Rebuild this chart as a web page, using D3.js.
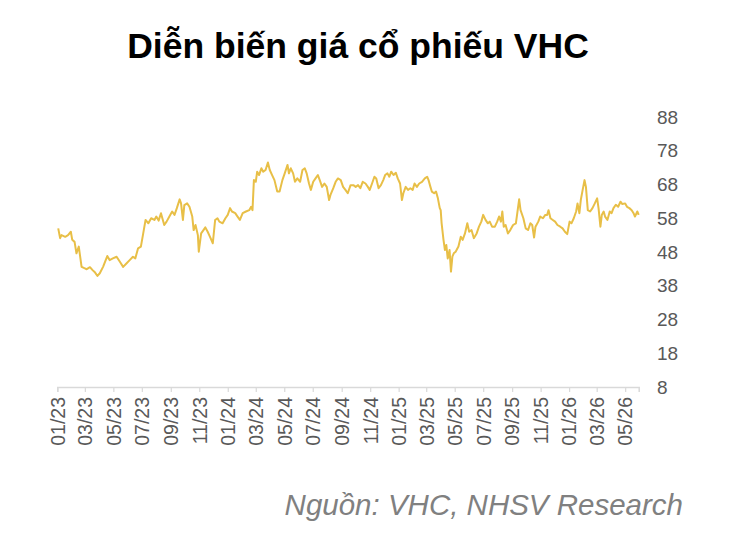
<!DOCTYPE html>
<html>
<head>
<meta charset="utf-8">
<script src="https://cdn.jsdelivr.net/npm/d3@7"></script>
<style>
  body { margin: 0; background: #fff; }
  svg { display: block; font-family: Arial, "Liberation Sans", sans-serif; }
</style>
</head>
<body>
<svg width="746" height="541"></svg>
<script>
const dates = [
  "2023-01-03","2023-01-07","2023-01-10","2023-01-18","2023-01-24","2023-01-30","2023-02-02","2023-02-07",
  "2023-02-11","2023-02-16","2023-02-22","2023-02-28","2023-03-05","2023-03-12","2023-03-17","2023-03-23",
  "2023-03-28","2023-04-02","2023-04-09","2023-04-18","2023-04-23","2023-04-30","2023-05-08","2023-05-15",
  "2023-05-22","2023-05-29","2023-06-05","2023-06-12","2023-06-17","2023-06-23","2023-06-29","2023-07-04",
  "2023-07-09","2023-07-15","2023-07-21","2023-07-28","2023-08-01","2023-08-06","2023-08-11","2023-08-18",
  "2023-08-23","2023-08-29","2023-09-04","2023-09-09","2023-09-14","2023-09-20","2023-09-23","2023-09-27",
  "2023-09-30","2023-10-06","2023-10-11","2023-10-17","2023-10-20","2023-10-24","2023-10-29","2023-10-31",
  "2023-11-05","2023-11-10","2023-11-14","2023-11-19","2023-11-24","2023-11-30","2023-12-05","2023-12-10",
  "2023-12-14","2023-12-21","2023-12-27","2024-01-01","2024-01-06","2024-01-10","2024-01-17","2024-01-22",
  "2024-01-27","2024-02-02","2024-02-09","2024-02-16","2024-02-20","2024-02-23","2024-02-26","2024-03-01",
  "2024-03-04","2024-03-08","2024-03-13","2024-03-17","2024-03-22","2024-03-27","2024-03-31","2024-04-05",
  "2024-04-10","2024-04-16","2024-04-21","2024-04-27","2024-05-02","2024-05-08","2024-05-11","2024-05-15",
  "2024-05-20","2024-05-24","2024-05-29","2024-06-04","2024-06-09","2024-06-14","2024-06-18","2024-06-23",
  "2024-06-27","2024-07-02","2024-07-07","2024-07-12","2024-07-16","2024-07-21","2024-07-26","2024-07-31",
  "2024-08-05","2024-08-08","2024-08-14","2024-08-19","2024-08-24","2024-08-30","2024-09-04","2024-09-09",
  "2024-09-14","2024-09-20","2024-09-26","2024-10-01","2024-10-06","2024-10-11","2024-10-16","2024-10-22",
  "2024-10-27","2024-10-31","2024-11-05","2024-11-10","2024-11-14","2024-11-19","2024-11-24","2024-11-29",
  "2024-12-03","2024-12-08","2024-12-12","2024-12-16","2024-12-21","2024-12-26","2024-12-30","2025-01-04",
  "2025-01-08","2025-01-11","2025-01-16","2025-01-21","2025-01-26","2025-01-31","2025-02-04","2025-02-09",
  "2025-02-14","2025-02-20","2025-02-26","2025-03-03","2025-03-06","2025-03-10","2025-03-13","2025-03-18",
  "2025-03-22","2025-03-26","2025-03-30","2025-04-01","2025-04-03","2025-04-07","2025-04-10","2025-04-13",
  "2025-04-16","2025-04-20","2025-04-23","2025-04-26","2025-04-29","2025-05-03","2025-05-09","2025-05-14",
  "2025-05-18","2025-05-23","2025-05-28","2025-06-01","2025-06-06","2025-06-11","2025-06-17","2025-06-22",
  "2025-06-27","2025-07-01","2025-07-06","2025-07-11","2025-07-15","2025-07-20","2025-07-26","2025-07-31",
  "2025-08-04","2025-08-08","2025-08-11","2025-08-14","2025-08-18","2025-08-23","2025-08-28","2025-09-03",
  "2025-09-09","2025-09-12","2025-09-16","2025-09-19","2025-09-25","2025-09-30","2025-10-05","2025-10-10",
  "2025-10-14","2025-10-18","2025-10-21","2025-10-27","2025-10-31","2025-11-06","2025-11-11","2025-11-15",
  "2025-11-18","2025-11-22","2025-11-27","2025-12-02","2025-12-07","2025-12-13","2025-12-18","2025-12-23",
  "2025-12-28","2026-01-02","2026-01-06","2026-01-11","2026-01-16","2026-01-19","2026-01-23","2026-01-26",
  "2026-01-30","2026-02-03","2026-02-06","2026-02-10","2026-02-15","2026-02-20","2026-02-25","2026-03-02",
  "2026-03-05","2026-03-09","2026-03-12","2026-03-16","2026-03-19","2026-03-24","2026-03-29","2026-04-02",
  "2026-04-06","2026-04-11","2026-04-16","2026-04-21","2026-04-25","2026-05-01","2026-05-05","2026-05-10",
  "2026-05-15","2026-05-19","2026-05-22","2026-05-27","2026-05-30"
];

const prices = [
  55.0,52.1,53.0,52.5,53.0,54.0,51.6,51.0,
  47.6,49.6,43.6,43.2,42.9,43.5,42.7,41.9,
  40.9,41.7,43.6,46.8,45.6,46.1,46.6,45.1,
  43.6,44.6,45.6,46.6,46.1,49.1,49.6,53.5,
  57.5,56.5,58.0,57.5,58.5,57.3,59.5,56.0,
  57.0,58.5,60.0,59.0,61.0,63.6,62.4,57.5,
  61.9,62.4,61.4,58.5,54.5,56.0,53.0,48.1,
  53.5,54.5,55.3,54.0,52.5,50.6,57.5,58.0,
  57.0,56.5,58.0,59.0,61.0,60.0,59.5,58.5,
  57.5,59.5,60.0,60.4,61.4,60.4,69.3,68.8,
  71.8,70.8,72.8,71.8,72.3,74.5,72.3,70.8,
  69.3,65.9,65.9,69.3,71.3,73.8,71.3,72.8,
  71.3,68.8,69.8,68.8,72.3,72.8,71.3,68.3,
  66.4,68.8,69.8,70.8,69.3,67.3,68.3,67.3,
  63.4,64.9,66.9,68.8,69.8,69.3,67.3,66.4,
  65.4,67.8,67.8,67.3,67.8,66.9,68.8,68.3,
  67.3,66.4,68.3,70.3,69.8,66.9,67.8,69.3,
  70.8,71.3,70.3,71.8,70.8,71.5,69.8,68.3,
  63.4,65.4,67.3,66.4,66.9,66.4,68.3,67.3,
  68.3,68.8,69.8,70.3,69.3,67.3,65.9,65.4,
  65.9,63.9,61.0,60.4,56.5,51.6,48.6,50.1,
  46.1,48.6,42.2,46.6,47.6,48.1,49.6,52.5,
  51.6,53.5,56.5,54.0,54.5,52.1,53.5,55.5,
  57.0,59.0,57.5,56.5,57.0,55.5,55.5,57.0,
  58.5,57.0,60.0,55.5,56.0,53.5,54.5,56.0,
  56.5,59.5,63.6,60.4,58.0,55.0,54.5,56.5,
  56.0,52.3,55.5,57.0,58.5,58.0,59.0,59.0,
  60.4,58.0,57.5,57.0,56.0,55.5,55.0,54.0,
  53.3,57.0,56.5,58.0,60.0,62.4,59.5,63.4,
  66.4,69.3,67.3,60.4,60.0,61.0,62.4,63.9,
  61.0,55.5,59.0,60.0,58.5,57.5,60.0,59.5,
  61.0,62.0,61.4,62.9,62.2,62.4,61.4,61.0,
  60.4,59.5,58.5,60.0,59.0
];

const yTicks = [8, 18, 28, 38, 48, 58, 68, 78, 88];
const title = "Diễn biến giá cổ phiếu VHC";
const source = "Nguồn: VHC, NHSV Research";

const parse = d3.timeParse("%Y-%m-%d");
const data = dates.map((d, i) => ({date: parse(d), value: prices[i]}));

const svg = d3.select("svg");
const plotLeft = 57.3, plotRight = 638.7, plotTop = 117, plotBottom = 387;

const x = d3.scaleTime()
    .domain([parse("2023-01-01"), parse("2026-05-30")])
    .range([plotLeft, plotRight]);

const y = d3.scaleLinear()
    .domain([8, 88])
    .range([plotBottom, plotTop]);

// x axis
const xAxis = svg.append("g")
    .attr("transform", `translate(0,${plotBottom})`)
    .call(d3.axisBottom(x)
      .ticks(d3.timeMonth.every(2))
      .tickFormat(d3.timeFormat("%m/%y"))
      .tickSizeOuter(0)
      .tickSize(5));

xAxis.select(".domain").attr("stroke", "#d9d9d9").attr("stroke-width", 1.5);
xAxis.selectAll(".tick line").attr("stroke", "#d9d9d9").attr("stroke-width", 1.2);
xAxis.selectAll(".tick text")
    .attr("transform", "rotate(-90)")
    .attr("text-anchor", "end")
    .attr("x", -10)
    .attr("y", 0)
    .attr("dy", "0.35em")
    .attr("fill", "#595959")
    .style("font-size", "19.5px")
    .style("font-family", "Arial, 'Liberation Sans', sans-serif");

// y labels (right side, no axis line)
svg.append("g")
    .selectAll("text")
    .data(yTicks)
    .join("text")
    .attr("x", 657)
    .attr("y", d => y(d))
    .attr("dy", "0.35em")
    .attr("fill", "#595959")
    .style("font-size", "19px")
    .text(d => d);

// price line
svg.append("path")
    .datum(data)
    .attr("fill", "none")
    .attr("stroke", "#E8BF47")
    .attr("stroke-width", 2)
    .attr("stroke-linejoin", "round")
    .attr("d", d3.line().x(d => x(d.date)).y(d => y(d.value)));

// title
svg.append("text")
    .attr("x", 358)
    .attr("y", 58)
    .attr("text-anchor", "middle")
    .style("font-size", "35.5px")
    .style("font-weight", "bold")
    .attr("fill", "#000")
    .text(title);

// source
svg.append("text")
    .attr("x", 683)
    .attr("y", 515)
    .attr("text-anchor", "end")
    .style("font-size", "29.5px")
    .style("font-style", "italic")
    .attr("fill", "#808080")
    .text(source);
</script>
</body>
</html>
